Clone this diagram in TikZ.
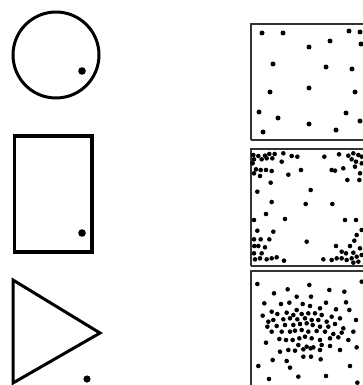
\documentclass[tikz,border=0pt]{standalone}
\begin{document}
\begin{tikzpicture}[x=1pt, y=-1pt]

% Canvas — 363 x 385, y runs downward
\useasboundingbox (0,0) rectangle (363,385);
\clip (0,0) rectangle (363,385);
\def\dotrad{2.5}

% Left column — shapes, each with one point
\draw[line width=3pt] (56,55) circle (43);
\fill (82,71) circle (3.8);

\draw[line width=3.6pt] (14.5,136) rectangle (92,252);
\fill (82,233) circle (3.8);

\draw[line width=3pt, line join=miter] (13,280) -- (100,333) -- (13,383) -- cycle;
\fill (87,379) circle (3.6);

% Right column — point patterns (frames run off the right edge)
\foreach \t/\b in {24/140, 149/266, 271/400} {
    \draw[black!80, line width=1.6pt] (251,\b) -- (251,\t) -- (370,\t) (251,\b) -- (370,\b);
}

% Pattern 1: random scatter
\foreach \x/\y in {262/33, 283/33, 349/31, 360/32, 309/47, 330/41, 361/44,
    273/64, 326/67, 352/69, 270/92, 309/88, 355/92, 259/112, 278/118,
    346/113, 360/121, 309/124, 263/132, 336/130} {
    \fill (\x,\y) circle (\dotrad);
}

% Pattern 2: points pushed into the corners (zoom coordinates, 3x)
\foreach \x/\y in {40/45, 55/48, 75/47, 88/42, 104/42, 130/40, 155/48, 172/50,
    42/58, 65/58, 80/55, 97/55, 125/65, 38/70, 48/88, 62/90, 78/90, 95/93,
    42/100, 60/108, 92/128, 52/155,
    253/50, 297/43, 325/47, 340/40, 355/45, 365/50, 335/58, 348/65, 365/70,
    275/90, 285/92, 310/85, 345/80, 360/100, 358/120, 322/120, 183/90, 145/104,
    212/150, 95/186, 197/192, 277/192, 78/222, 42/240, 135/237, 315/240, 348/240,
    52/272, 100/275, 42/298, 62/298, 88/298, 75/322, 55/318, 43/318, 42/340,
    65/340, 45/358, 60/355, 80/358, 95/355, 110/352, 132/362, 200/305,
    365/270, 350/285, 343/302, 330/318, 305/335, 318/340, 340/338, 360/325,
    288/318, 250/358, 275/360, 290/355, 305/355, 320/360, 335/355, 350/350,
    365/345, 355/365, 340/368} {
    \fill ({240+\x/3},{140+\y/3}) circle (2.3);
}

% Pattern 3: points gathered around a centre (zoom coordinates, 3x)
\foreach \x/\y in {52/72, 208/75, 365/65, 102/100, 143/88, 268/90, 313/95,
    170/110, 213/110, 73/130, 123/132, 148/128, 188/132, 258/128, 318/127,
    95/155, 170/150, 210/138, 240/145, 288/148, 328/150, 68/167, 112/162,
    140/158, 160/165, 185/162, 205/160, 225/160, 245/165, 275/170, 300/175,
    348/180, 85/185, 100/180, 130/178, 150/175, 172/178, 195/175, 215/180,
    235/180, 260/185, 285/192, 82/200, 110/198, 135/195, 160/195, 180/192,
    200/190, 218/195, 240/200, 265/200, 310/205, 95/215, 125/215, 150/215,
    165/212, 185/210, 205/215, 230/213, 255/215, 280/222, 305/218, 340/215,
    118/237, 138/240, 158/240, 178/235, 195/230, 215/235, 240/240, 270/235,
    295/232, 78/248, 175/255, 200/260, 220/262, 245/255, 270/258, 325/240,
    350/262, 120/275, 145/270, 165/272, 190/268, 212/265, 240/270, 300/270,
    98/300, 140/303, 190/290, 213/290, 242/298, 55/318, 150/323, 330/318,
    87/357, 175/350, 258/348, 352/368} {
    \fill ({240+\x/3},{260+\y/3}) circle (2.3);
}

\end{tikzpicture}
\end{document}
